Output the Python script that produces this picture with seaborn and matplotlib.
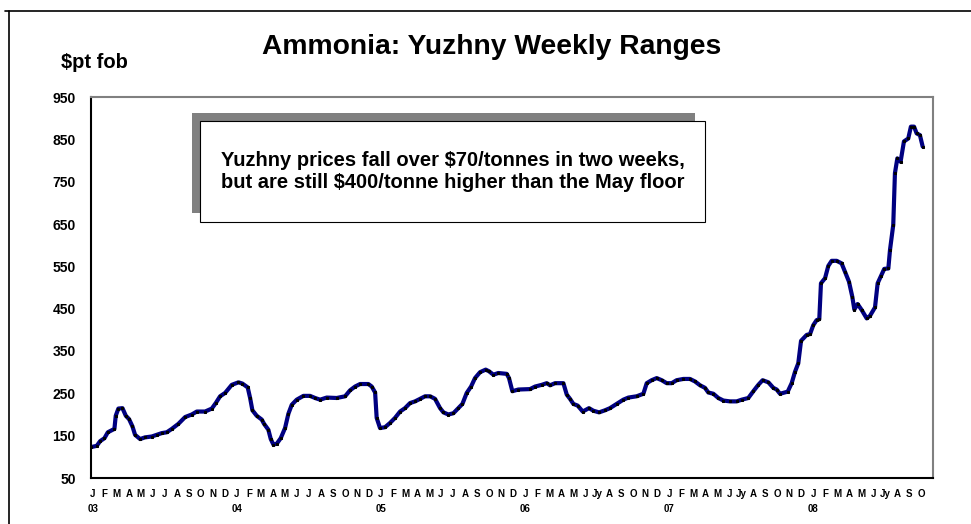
import numpy as np
import pandas as pd
import matplotlib
matplotlib.use("Agg")
import matplotlib.pyplot as plt
import seaborn as sns
from matplotlib.patches import Rectangle
from matplotlib.lines import Line2D

# ============ DATA ============
# x = months since Jan 2003 (0 = J 03), y = $/t fob Yuzhny
month_pos = [-0.14, 0.33, 0.61, 0.97, 1.25, 1.80, 1.91, 2.13, 2.47, 2.75,
             3.02, 3.30, 3.52, 3.94, 4.35, 4.91, 5.33, 5.74, 6.16, 6.58,
             7.13, 7.69, 8.24, 8.66, 9.35, 9.91, 10.24, 10.60, 11.02, 11.57,
             12.13, 12.46, 12.90, 13.10, 13.29, 13.65, 14.07,
             14.26, 14.62, 14.82, 15.04, 15.32, 15.65, 16.01, 16.29, 16.57, 16.98,
             17.54, 18.09, 18.51, 18.93, 19.48, 20.31, 21.01, 21.42, 21.84, 22.26,
             22.95, 23.23, 23.51, 23.64, 23.92, 24.34, 24.75, 25.17, 25.59, 26.00,
             26.42, 26.84, 27.25, 27.67, 28.09, 28.50, 28.92,
             29.20, 29.61, 30.03, 30.44, 30.78, 31.14, 31.50, 31.83, 32.25, 32.72,
             33.00, 33.36, 33.77, 34.47, 34.66, 34.94, 35.44, 36.41, 36.83, 37.38,
             37.80, 38.08, 38.50, 39.19, 39.47, 39.74, 40.02, 40.38, 40.80, 41.32,
             41.68, 42.16, 42.66, 43.07,
             43.63, 44.18, 44.60, 45.29, 45.85, 46.13, 46.54, 46.96, 47.38, 47.79,
             48.21, 48.62, 49.18, 49.73, 50.15, 50.57, 50.98, 51.26, 51.68, 52.09,
             52.51, 53.06, 53.62, 54.04, 54.59, 55.01, 55.42, 55.78, 56.26, 56.67,
             56.95,
             57.23, 57.87, 58.20, 58.48, 58.75, 58.98, 59.45, 59.73, 60.00, 60.28,
             60.50, 60.64, 60.98, 61.25, 61.53, 61.95, 62.36, 62.64, 62.97, 63.25,
             63.42, 63.69, 64.03, 64.45, 64.72, 65.14, 65.36, 65.64, 65.91, 66.25,
             66.39,
             66.66, 66.80, 67.00, 67.27, 67.55, 67.91, 68.13, 68.39, 68.61, 68.88, 69.11]

price = [123, 126, 137, 144, 158, 166, 197, 214, 215, 197,
         189, 172, 152, 142, 146, 148, 152, 156, 158, 166,
         178, 194, 200, 207, 207, 214, 227, 243, 251, 270,
         276, 273, 264, 239, 210, 197, 188,
         178, 164, 142, 129, 131, 144, 168, 202, 223, 235,
         244, 244, 239, 235, 240, 239, 243, 257, 266, 272,
         272, 266, 252, 192, 168, 170, 180, 192, 207, 215,
         227, 231, 237, 243, 243, 237, 215,
         205, 200, 203, 215, 225, 251, 266, 286, 300, 306,
         302, 294, 298, 296, 286, 255, 259, 260, 266, 270,
         274, 269, 274, 274, 247, 237, 225, 221, 207, 215,
         209, 205, 210, 215,
         225, 235, 240, 243, 249, 274, 281, 286, 281, 274,
         274, 281, 284, 284, 278, 269, 263, 252, 249, 239,
         233, 231, 231, 235, 239, 255, 270, 281, 276, 263,
         259,
         249, 254, 274, 301, 321, 374, 388, 390, 411, 423,
         425, 510, 522, 551, 563, 563, 557, 537, 514, 478,
         448, 461, 447, 427, 433, 453, 510, 527, 544, 545,
         589,
         648, 770, 805, 797, 845, 852, 880, 880, 864, 860, 833]

assert len(month_pos) == len(price)

months_short = ["J", "F", "M", "A", "M", "J", "J", "A", "S", "O", "N", "D"]
months_jy = ["J", "F", "M", "A", "M", "J", "Jy", "A", "S", "O", "N", "D"]
years = ["03", "04", "05", "06", "07", "08"]
y_ticks = list(range(50, 951, 100))

title = "Ammonia: Yuzhny Weekly Ranges"
unit_label = r"\$pt fob"
note = ("Yuzhny prices fall over \\$70/tonnes in two weeks,\n"
        "but are still \\$400/tonne higher than the May floor")

df = pd.DataFrame({"month": month_pos, "price": price})

# month tick labels, J 03 .. O 08
xlabels = []
for i, yr in enumerate(years):
    names = months_short if i < 3 else months_jy
    if yr == "08":
        names = names[:10]
    for j, m in enumerate(names):
        xlabels.append(f"{m}\n{yr}" if j == 0 else m)

# ============ FIGURE ============
sns.set_style("white")
plt.rcParams["font.family"] = ["Liberation Sans", "DejaVu Sans"]
plt.rcParams["font.weight"] = "bold"
plt.rcParams["text.color"] = "black"
plt.rcParams["xtick.color"] = "black"
plt.rcParams["ytick.color"] = "black"
plt.rcParams["xtick.labelcolor"] = "black"
plt.rcParams["ytick.labelcolor"] = "black"

W, H = 971, 524
fig = plt.figure(figsize=(W / 100, H / 100), dpi=100)
ax = fig.add_axes([91 / W, 1 - 478 / H, (933 - 91) / W, (478 - 97) / H])

sns.lineplot(data=df, x="month", y="price", ax=ax, color="#000080",
             linewidth=3.0, marker="s", markersize=1.6,
             markerfacecolor="black", markeredgecolor="black")

ax.set_xlim(-0.15, 69.97)
ax.set_ylim(50, 950)
ax.set_xlabel("")
ax.set_ylabel("")

ax.set_yticks(y_ticks)
ax.set_yticklabels([str(v) for v in y_ticks], fontsize=10, fontweight="bold")
ax.tick_params(axis="y", direction="out", length=5, width=1.2, color="black", pad=6)

ax.set_xticks(range(len(xlabels)))
ax.set_xticklabels(xlabels, fontsize=7, fontweight="bold", linespacing=1.55, va="top")
ax.tick_params(axis="x", which="major", length=0, pad=8)
ax.set_xticks(np.linspace(-0.15, 69.97, 96), minor=True)
ax.tick_params(axis="x", which="minor", direction="inout", length=6, width=1.0, color="black")

for side in ["left", "bottom"]:
    ax.spines[side].set_color("black")
    ax.spines[side].set_linewidth(1.5)
for side in ["top", "right"]:
    ax.spines[side].set_color("#808080")
    ax.spines[side].set_linewidth(1.5)

# outer chart frame
fig.add_artist(Line2D([5 / W, 1], [1 - 11 / H, 1 - 11 / H], color="black", lw=1.2,
                      transform=fig.transFigure))
fig.add_artist(Line2D([9 / W, 9 / W], [1 - 11 / H, 0], color="black", lw=1.2,
                      transform=fig.transFigure))

fig.text(492 / W, 1 - 47 / H, title, ha="center", va="center",
         fontsize=20.3, fontweight="bold")
fig.text(94 / W, 1 - 63 / H, unit_label, ha="center", va="center",
         fontsize=14.5, fontweight="bold")

# annotation box with drop shadow
fig.add_artist(Rectangle((192 / W, 1 - 213 / H), (695 - 192) / W, (213 - 113) / H,
                         transform=fig.transFigure, facecolor="#808080",
                         edgecolor="none", zorder=3))
fig.add_artist(Rectangle((200 / W, 1 - 222 / H), (705 - 200) / W, (222 - 121) / H,
                         transform=fig.transFigure, facecolor="white",
                         edgecolor="black", lw=0.8, zorder=4))
fig.text(453 / W, 1 - 172 / H, note, ha="center", va="center", fontsize=14.5,
         fontweight="bold", linespacing=1.2, zorder=5)

fig.savefig("out.png", dpi=100)
